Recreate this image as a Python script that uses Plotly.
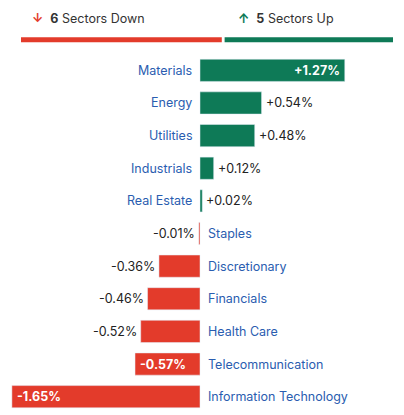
import plotly.graph_objects as go

sectors = ["Materials", "Energy", "Utilities", "Industrials", "Real Estate", "Staples",
           "Discretionary", "Financials", "Health Care", "Telecommunication", "Information Technology"]
changes = [1.27, 0.54, 0.48, 0.12, 0.02, -0.01, -0.36, -0.46, -0.52, -0.57, -1.65]
inside_labels = ["Materials", "Telecommunication", "Information Technology"]
n_down, n_up = 6, 5

GREEN = "#0e7a57"
RED = "#e33b2b"
BLUE = "#2a5db0"
W = 404

fig = go.Figure()
fig.add_trace(go.Bar(
    x=changes, y=sectors, orientation="h",
    marker_color=[GREEN if v > 0 else RED for v in changes],
    width=0.68, hoverinfo="skip",
))

for name, v in zip(sectors, changes):
    txt = f"{v:+.2f}%"
    if name in inside_labels:
        fig.add_annotation(x=v, y=name, text=f"<b>{txt}</b>", showarrow=False,
                           xanchor="right" if v > 0 else "left",
                           xshift=-3 if v > 0 else 3,
                           font=dict(color="white", size=12.5))
    else:
        fig.add_annotation(x=v, y=name, text=txt, showarrow=False,
                           xanchor="left" if v > 0 else "right",
                           xshift=2 if v > 0 else -2,
                           font=dict(color="#222", size=12.5))
    fig.add_annotation(x=0, y=name, text=name, showarrow=False,
                       xanchor="right" if v > 0 else "left",
                       xshift=-6 if v > 0 else 6,
                       font=dict(color=BLUE, size=12.5))

# header
split = 215 / W
fig.add_shape(type="line", xref="paper", yref="paper", x0=13 / W, x1=split - 0.003,
              y0=1.04, y1=1.04, line=dict(color=RED, width=5))
fig.add_shape(type="line", xref="paper", yref="paper", x0=split + 0.004, x1=385 / W,
              y0=1.04, y1=1.04, line=dict(color=GREEN, width=5))
fig.add_annotation(xref="paper", yref="paper", x=22 / W, y=1.1, showarrow=False,
                   xanchor="left", yanchor="middle",
                   text=f"<span style='color:{RED}'><b>↓</b></span>  <b>{n_down}</b> Sectors Down",
                   font=dict(size=12.5, color="#333"))
fig.add_annotation(xref="paper", yref="paper", x=228 / W, y=1.1, showarrow=False,
                   xanchor="left", yanchor="middle",
                   text=f"<span style='color:{GREEN}'><b>↑</b></span>  <b>{n_up}</b> Sectors Up",
                   font=dict(size=12.5, color="#333"))

fig.update_layout(
    width=W, height=415,
    margin=dict(l=0, r=0, t=46, b=10),
    plot_bgcolor="white", paper_bgcolor="white",
    font=dict(family="Inter, Roboto, sans-serif"),
    showlegend=False,
    bargap=0.3,
    xaxis=dict(range=[-192 / 114, 212 / 114], visible=False),
    yaxis=dict(autorange="reversed", visible=False),
)

fig.write_html("out.html")
